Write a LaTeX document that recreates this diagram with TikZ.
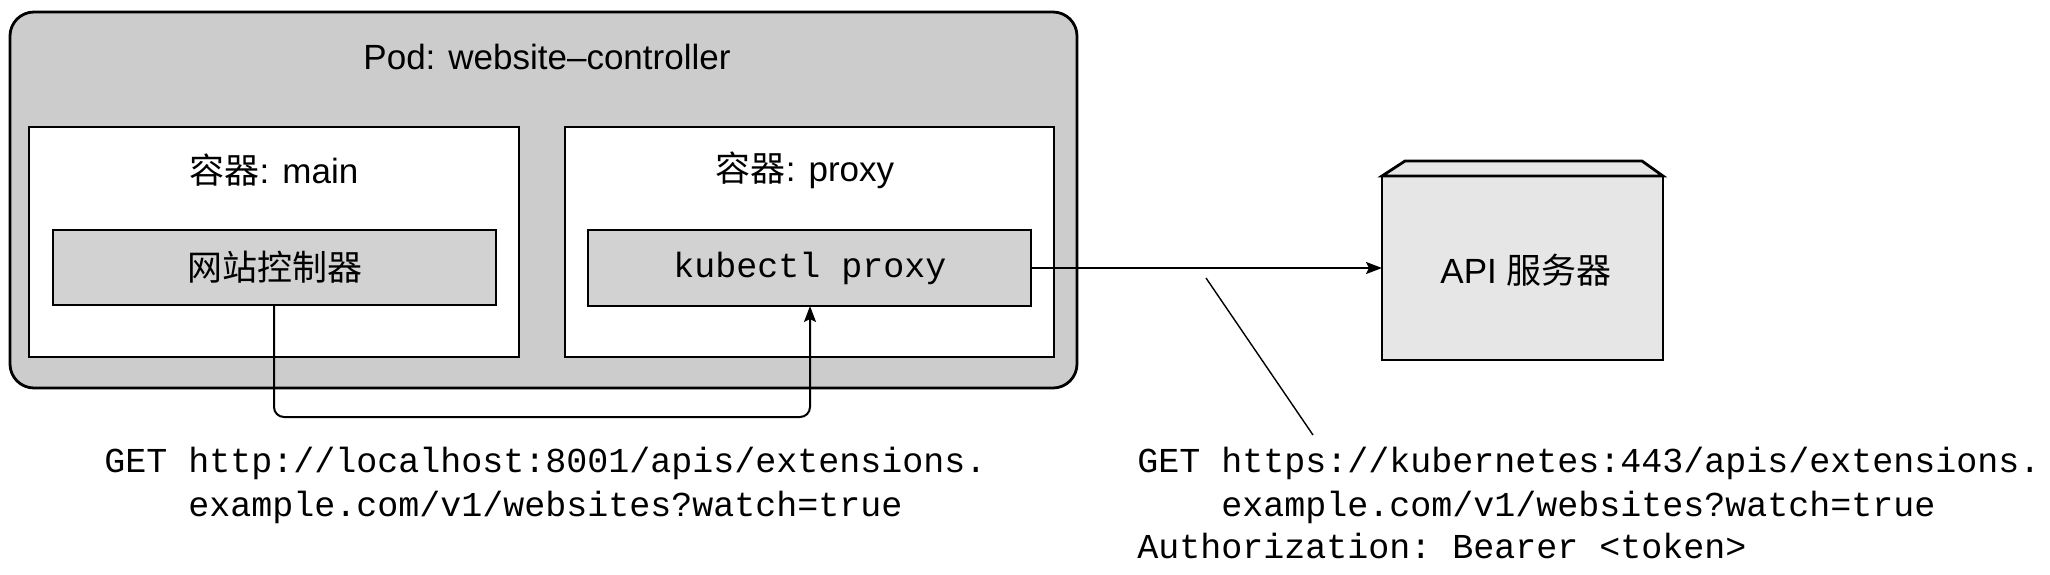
\documentclass[tikz,border=0pt]{standalone}
\usepackage{fontspec}
\setmainfont{Liberation Sans}
\setmonofont{Liberation Mono}
\newfontfamily\cjk{Noto Sans CJK SC}
\usetikzlibrary{arrows.meta}
\definecolor{podgray}{HTML}{CCCCCC}
\definecolor{procgray}{HTML}{D2D2D2}
\definecolor{apigray}{HTML}{E6E6E6}
\begin{document}
\begin{tikzpicture}[x=0.5pt,y=-0.5pt,
  box/.style={draw=black, line width=1.4pt, inner sep=0pt, outer sep=0pt},
  podbox/.style={box, fill=podgray, rounded corners=12pt},
  ctrbox/.style={box, fill=white},
  procbox/.style={box, fill=procgray},
  apibox/.style={box, fill=apigray},
  lbl/.style={inner sep=0pt, font=\fontsize{17.5}{21}\selectfont},
  mono/.style={inner sep=0pt, font=\ttfamily\fontsize{17.5}{20}\selectfont},
  conn/.style={line width=1pt, draw=black},
  tip/.style={-{Stealth[length=8pt,width=6pt,inset=1.5pt]}},
]
\useasboundingbox (0,0) rectangle (2050,574);

% Pod
\node[podbox, minimum width=533.5pt, minimum height=188pt] (pod) at (543.5,200) {};
\node[lbl] (podlbl) at (547,57) {Pod: website–controller};

% Containers
\node[ctrbox, minimum width=245pt, minimum height=115pt] (cmain) at (274,242) {};
\node[ctrbox, minimum width=244.5pt, minimum height=115pt] (cproxy) at (809.5,242) {};
\node[lbl] (cmainlbl) at (274,170) {{\cjk 容器}: main};
\node[lbl] (cproxylbl) at (805,170) {{\cjk 容器}: proxy};

% Processes
\node[procbox, minimum width=221.5pt, minimum height=37.5pt] (ctrl) at (274.5,267.5) {};
\node[lbl] (ctrllbl) at (274.5,267.5) {\cjk 网站控制器};
\node[procbox, minimum width=221.5pt, minimum height=38pt] (kp) at (809.5,268) {};
\node[mono] (kplbl) at (810,268) {kubectl proxy};

% API server
\node[apibox, minimum width=140.5pt, minimum height=92pt] (api) at (1522.5,268) {};
\draw[line width=1.4pt, fill=apigray, line join=miter]
  (api.north west) -- ++(23,-15) -- ++(237,0) -- (api.north east) -- cycle;
\node[lbl] (apilbl) at (1526,270) {API {\cjk 服务器}};

% connectors
\coordinate (loopL) at (274,417);
\coordinate (loopR) at (810,417);
\draw[conn, tip, rounded corners=5pt] (ctrl.south -| loopL) -- (loopL) -- (loopR) -- (kp.south -| loopR);
\draw[conn, tip] (kp.east) -- (api.west);

\coordinate (callA) at (1206,278);
\coordinate (callB) at (1313,435);
\draw[line width=0.7pt] (callA) -- (callB);

% request texts
\node[mono, anchor=base west] (reqL1) at (104,472) {GET http://localhost:8001/apis/extensions.};
\node[mono, anchor=base west] (reqL2) at (188,516) {example.com/v1/websites?watch=true};
\node[mono, anchor=base west] (reqR1) at (1137,472) {GET https://kubernetes:443/apis/extensions.};
\node[mono, anchor=base west] (reqR2) at (1221,516) {example.com/v1/websites?watch=true};
\node[mono, anchor=base west] (reqR3) at (1137,558) {Authorization: Bearer <token>};
\end{tikzpicture}
\end{document}
